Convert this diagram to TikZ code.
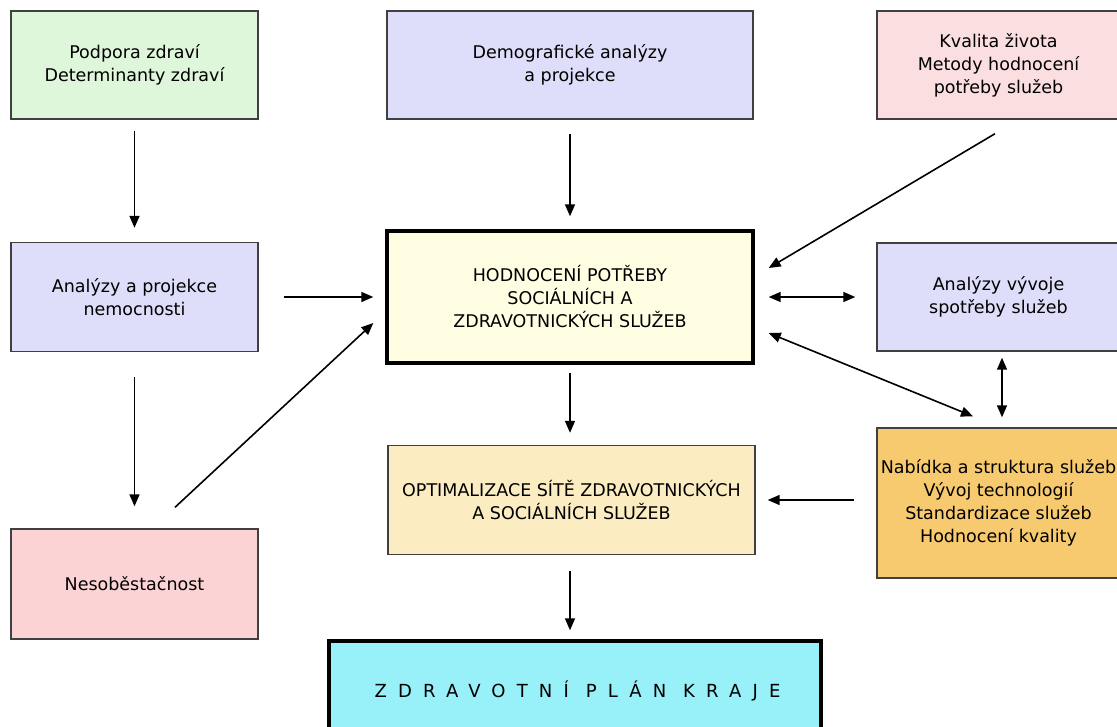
\documentclass[tikz,border=0pt]{standalone}
\usepackage{fontspec}
\setmainfont{DejaVu Sans}
\newfontfamily\planfont[LetterSpace=62]{DejaVu Sans}
\usetikzlibrary{arrows.meta, calc}

\definecolor{zelena}{RGB}{222,246,218}
\definecolor{fialova}{RGB}{222,222,250}
\definecolor{ruzova}{RGB}{250,222,224}
\definecolor{zluta}{RGB}{255,253,226}
\definecolor{okrova}{RGB}{251,236,194}
\definecolor{oranzova}{RGB}{248,202,112}
\definecolor{tyrkys}{RGB}{152,240,248}

\tikzset{
  box/.style={draw=black!75, line width=1.4pt, align=center, inner sep=0pt,
    font=\fontsize{17.5}{23}\selectfont},
  mainbox/.style={box, draw=black, line width=3.4pt},
  sip/.style={-{Triangle[length=12pt,width=10pt]}, line width=1.6pt},
  oboustr/.style={{Triangle[length=12pt,width=10pt]}-{Triangle[length=12pt,width=10pt]}, line width=1.6pt},
}

\begin{document}
\begin{tikzpicture}[x=1pt, y=-1pt]
\useasboundingbox (0,0) rectangle (1117,726);
\clip (0,0) rectangle (1117,726);

\node[box, fill=zelena, minimum width=247, minimum height=108] (podpora) at (134.5,65) {Podpora zdraví\\Determinanty zdraví};
\node[box, fill=fialova, minimum width=366, minimum height=108] (demo) at (570,65) {Demografické analýzy\\a projekce};
\node[box, fill=ruzova, minimum width=243, minimum height=108] (kvalita) at (998.5,65) {Kvalita života\\Metody hodnocení\\potřeby služeb};
\node[box, fill=fialova, minimum width=247, minimum height=109] (nemoc) at (134.5,297) {Analýzy a projekce\\nemocnosti};
\node[mainbox, fill=zluta, minimum width=366, minimum height=132] (hodnoc) at (570,297) {HODNOCENÍ POTŘEBY\\SOCIÁLNÍCH A\\ZDRAVOTNICKÝCH SLUŽEB};
\node[box, fill=fialova, minimum width=243, minimum height=108] (vyvoj) at (998.5,297) {Analýzy vývoje\\spotřeby služeb};
\node[box, fill=okrova, minimum width=367, minimum height=109] (optim) at (571.5,500) {OPTIMALIZACE SÍTĚ ZDRAVOTNICKÝCH\\A SOCIÁLNÍCH SLUŽEB};
\node[box, fill=oranzova, minimum width=243, minimum height=150] (nabidka) at (998.5,503) {Nabídka a struktura služeb\\Vývoj technologií\\Standardizace služeb\\Hodnocení kvality};
\node[box, fill=ruzova!90!red!80, minimum width=247, minimum height=110] (nesob) at (134.5,584) {Nesoběstačnost};
\node[mainbox, fill=tyrkys, minimum width=492, minimum height=100] (plan) at (575,691) {\planfont\fontsize{18}{22}\selectfont\hspace{5pt}ZDRAVOTNÍ PLÁN KRAJE};

\draw[sip] ($(podpora.south)+(0,11)$) -- ($(nemoc.north)+(0,-14)$);
\draw[sip] ($(demo.south)+(0,14)$) -- ($(hodnoc.north)+(0,-13)$);
\draw[sip] ($(kvalita.south)+(-3.5,14)$) -- ($(hodnoc.east)+(14,-29)$);
\draw[sip] ($(nemoc.east)+(25,0)$) -- ($(hodnoc.west)+(-12,0)$);
\draw[oboustr] ($(hodnoc.east)+(14,0)$) -- ($(vyvoj.west)+(-21,0)$);
\draw[oboustr] ($(hodnoc.east)+(14,36)$) -- ($(nabidka.north)+(-25.5,-11)$);
\draw[oboustr] ($(vyvoj.south)+(3.5,6)$) -- ($(nabidka.north)+(3.5,-10)$);
\draw[sip] ($(nemoc.south)+(0,25)$) -- ($(nesob.north)+(0,-22)$);
\draw[sip] ($(nesob.north)+(40.5,-21)$) -- ($(hodnoc.west)+(-12,26)$);
\draw[sip] ($(hodnoc.south)+(0,8)$) -- ($(optim.north)+(-1.5,-12)$);
\draw[sip] ($(nabidka.west)+(-22,-3)$) -- ($(optim.east)+(12,0)$);
\draw[sip] ($(optim.south)+(-1.5,16)$) -- ($(plan.north)+(-5,-9)$);
\end{tikzpicture}
\end{document}
